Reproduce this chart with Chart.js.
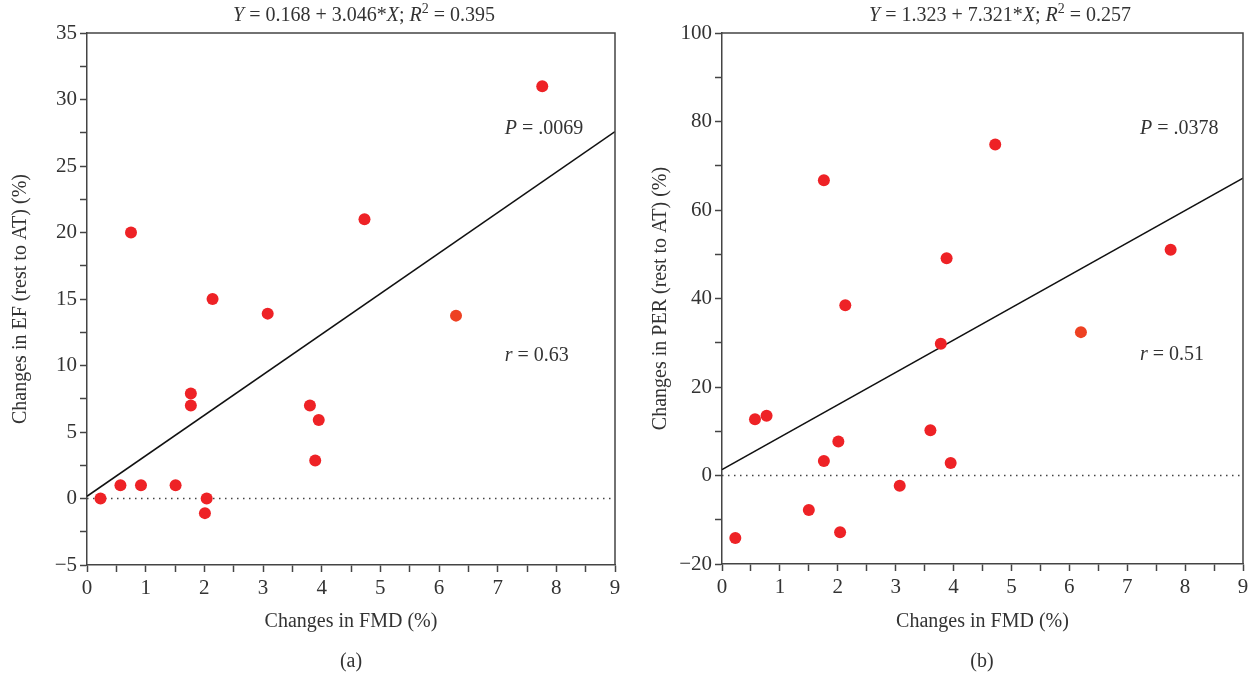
<!DOCTYPE html>
<html><head><meta charset="utf-8">
<script src="https://cdn.jsdelivr.net/npm/chart.js@4/dist/chart.umd.min.js"></script>
<style>
html,body{margin:0;padding:0;background:#fff;width:1253px;height:676px;overflow:hidden}
#wa{position:absolute;left:0;top:0;width:640px;height:676px}
#wb{position:absolute;left:640px;top:0;width:613px;height:676px}
</style></head><body>
<div id="wa"><canvas id="ca"></canvas></div>
<div id="wb"><canvas id="cb"></canvas></div>
<script>
// ---- data ----
const fmdA = [0.23, 0.57, 0.75, 0.92, 1.51, 1.77, 1.77, 2.04, 2.01, 2.14, 3.08, 3.80, 3.95, 3.89, 4.73, 6.29, 7.76];
const efA  = [0, 1, 20, 1, 1, 7.9, 7.0, 0, -1.1, 15, 13.9, 7.0, 5.9, 2.85, 21, 13.75, 31];
const fmdB = [0.23, 0.57, 0.77, 1.50, 1.76, 2.01, 2.04, 3.07, 3.60, 3.95, 1.76, 2.13, 3.78, 3.88, 4.72, 6.20, 7.75];
const perB = [-14.1, 12.7, 13.5, -7.8, 3.3, 7.7, -12.8, -2.3, 10.2, 2.8, 66.7, 38.5, 29.8, 49.1, 74.8, 32.4, 51.0];
const fitXA = [0, 9];
const fitYA = [0.168, 27.58];
const fitXB = [0, 9];
const fitYB = [1.323, 67.21];
const zeroX = [0, 9];
const zeroY = [0, 0];
const xTickLabels  = [0, 1, 2, 3, 4, 5, 6, 7, 8, 9];
const yTickLabelsA = [-5, 0, 5, 10, 15, 20, 25, 30, 35];
const yTickLabelsB = [-20, 0, 20, 40, 60, 80, 100];
const titleA = [{t:'Y',i:1},{t:' = 0.168 + 3.046*'},{t:'X',i:1},{t:'; '},{t:'R',i:1},{t:'2',s:1},{t:' = 0.395'}];
const titleB = [{t:'Y',i:1},{t:' = 1.323 + 7.321*'},{t:'X',i:1},{t:'; '},{t:'R',i:1},{t:'2',s:1},{t:' = 0.257'}];
const pTextA = [{t:'P',i:1},{t:' = .0069'}];
const rTextA = [{t:'r',i:1},{t:' = 0.63'}];
const pTextB = [{t:'P',i:1},{t:' = .0378'}];
const rTextB = [{t:'r',i:1},{t:' = 0.51'}];

// ---- styles ----
const FONT = '"Liberation Serif", "Times New Roman", serif';
const TXT = '#333';
const AX = '#444';
const RED = '#ee2226';
const ORANGE = '#ee4122';

function pts(xs, ys){ return xs.map((x,i)=>({x:x, y:ys[i]})); }
function fmt(v){ return v < 0 ? '\u2212' + Math.abs(v) : String(v); }

function drawRich(ctx, segs, x, y, align, size){
  let total = 0;
  const f = s => (s.i ? 'italic ' : '') + (s.s ? Math.round(size*0.7) : size) + 'px ' + FONT;
  segs.forEach(s => { ctx.font = f(s); s.w = ctx.measureText(s.t).width; total += s.w; });
  let cx = align === 'center' ? x - total/2 : x;
  ctx.textAlign = 'left'; ctx.textBaseline = 'middle'; ctx.fillStyle = TXT;
  segs.forEach(s => { ctx.font = f(s); ctx.fillText(s.t, cx, s.s ? y - size*0.33 : y); cx += s.w; });
}

function makeChart(id, xs, ys, fx, fy, ymin, ymax, ystep, ylabels, ytitle, yW, xH, padR, hiIdx, title, titleCx, pText, rText, annX, pY, rY, sub, subCx){
  const colors = xs.map((_,i)=> i === hiIdx ? ORANGE : RED);
  const deco = {
    id: 'deco' + id,
    afterDraw(chart){
      const ctx = chart.ctx, a = chart.chartArea, sx = chart.scales.x, sy = chart.scales.y;
      ctx.save();
      ctx.strokeStyle = AX; ctx.lineWidth = 1.5;
      ctx.beginPath();
      ctx.moveTo(a.left, a.top); ctx.lineTo(a.right, a.top); ctx.lineTo(a.right, a.bottom);
      ctx.stroke();
      drawRich(ctx, title, titleCx, 16, 'center', 20);
      drawRich(ctx, pText, sx.getPixelForValue(annX), sy.getPixelForValue(pY), 'left', 20);
      drawRich(ctx, rText, sx.getPixelForValue(annX), sy.getPixelForValue(rY), 'left', 20);
      drawRich(ctx, [{t:sub}], subCx, 662, 'center', 20);
      ctx.restore();
    }
  };
  return new Chart(document.getElementById(id), {
    type: 'scatter',
    data: { datasets: [
      { data: pts(xs, ys), backgroundColor: colors, borderColor: colors, pointRadius: 6, pointHoverRadius: 6, borderWidth: 0, order: 1 },
      { type: 'line', data: pts(fx, fy), borderColor: '#111', borderWidth: 1.5, pointRadius: 0, fill: false, order: 2 },
      { type: 'line', data: pts(zeroX, zeroY), borderColor: '#444', borderWidth: 1.5, borderDash: [1.5, 4.5], pointRadius: 0, fill: false, order: 3 }
    ]},
    options: {
      responsive: true, maintainAspectRatio: false, animation: false,
      layout: { padding: { left: 0, top: 33, right: padR, bottom: 0 } },
      plugins: { legend: { display: false }, tooltip: { enabled: false } },
      scales: {
        x: {
          type: 'linear', min: 0, max: 9,
          afterFit: s => { s.height = xH; },
          ticks: { stepSize: 0.5, autoSkip: false, maxRotation: 0, padding: 4, color: TXT,
                   font: { family: FONT, size: 21 },
                   callback: v => xTickLabels.includes(v) ? fmt(v) : '' },
          grid: { drawOnChartArea: false, drawTicks: true, tickLength: 7, tickColor: AX, tickWidth: 1.5 },
          border: { display: true, color: AX, width: 1.5 },
          title: { display: true, text: 'Changes in FMD (%)', color: TXT, font: { family: FONT, size: 20 }, padding: { top: 0, bottom: 42 } }
        },
        y: {
          type: 'linear', min: ymin, max: ymax,
          afterFit: s => { s.width = yW; },
          ticks: { stepSize: ystep, autoSkip: false, padding: 3, color: TXT,
                   font: { family: FONT, size: 21 },
                   callback: v => ylabels.includes(v) ? fmt(v) : '' },
          grid: { drawOnChartArea: false, drawTicks: true, tickLength: 7, tickColor: AX, tickWidth: 1.5 },
          border: { display: true, color: AX, width: 1.5 },
          title: { display: true, text: ytitle, color: TXT, font: { family: FONT, size: 20 }, padding: { top: 9, bottom: 0 } }
        }
      }
    },
    plugins: [deco]
  });
}

makeChart('ca', fmdA, efA, fitXA, fitYA, -5, 35, 2.5, yTickLabelsA, 'Changes in EF (rest to AT) (%)', 87, 111, 25, 15,
  titleA, 364, pTextA, rTextA, 7.12, 27.8, 10.75, '(a)', 351);
makeChart('cb', fmdB, perB, fitXB, fitYB, -20, 100, 10, yTickLabelsB, 'Changes in PER (rest to AT) (%)', 82, 112, 10, 15,
  titleB, 360, pTextB, rTextB, 7.22, 78.3, 27.2, '(b)', 342);
</script>
</body></html>
